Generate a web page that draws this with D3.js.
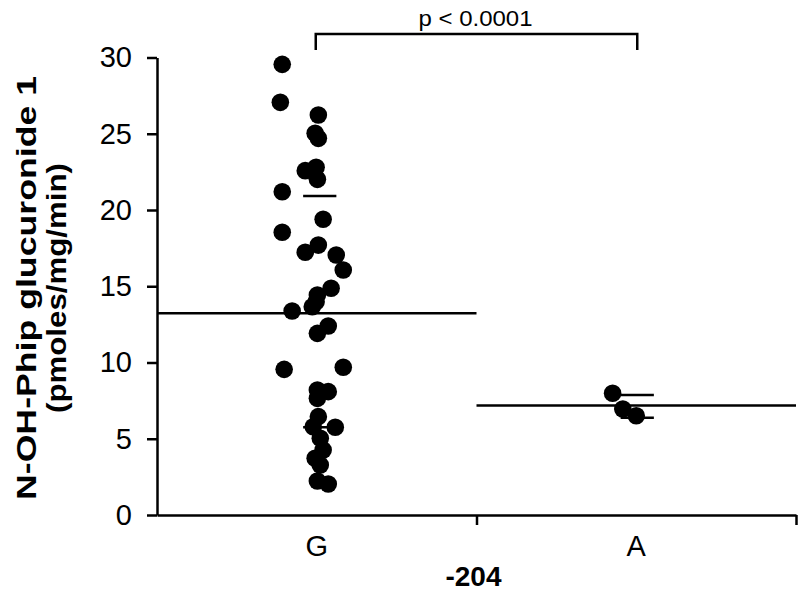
<!DOCTYPE html>
<html>
<head>
<meta charset="utf-8">
<script src="https://cdn.jsdelivr.net/npm/d3@7"></script>
<style>
  html, body { margin: 0; padding: 0; background: #fff; }
  svg { display: block; font-family: "Liberation Sans", Arial, Helvetica, sans-serif; }
</style>
</head>
<body>
<svg id="chart" width="800" height="594"></svg>
<script>
// ---- data ----
const categories = ["G", "A"];
const gValues = [29.55, 27.06, 26.23, 25.03, 24.70, 22.80, 22.58, 22.01, 21.20, 19.39,
                 18.54, 17.70, 17.23, 17.05, 16.07, 14.87, 14.43, 13.99, 13.38, 13.66,
                 12.39, 11.91, 9.55, 9.69, 8.20, 8.09, 7.65, 6.45, 5.79, 5.75,
                 5.03, 4.26, 3.72, 3.28, 2.23, 2.03];
// horizontal scatter of each G point, as fraction of the category width
const gJitter = [-0.108, -0.114, 0.005, -0.005, 0.005, -0.002, -0.036, 0.002, -0.108, 0.020,
                 -0.108, 0.005, -0.036, 0.061, 0.083, 0.045, 0.002, -0.002, -0.077, -0.014,
                 0.036, 0.002, -0.102, 0.083, 0.002, 0.036, 0.002, 0.005, -0.011, 0.058,
                 0.011, 0.020, -0.005, 0.011, 0.002, 0.036];
const aValues = [7.98, 6.95, 6.51];
const aJitter = [-0.074, -0.042, 0.0];
const means = [13.23, 7.18];
const sdUpper = [20.92, 7.87];
const sdLower = [5.75, 6.38];
const yTicks = [0, 5, 10, 15, 20, 25, 30];
const yTitle = ["N-OH-Phip glucuronide 1", "(pmoles/mg/min)"];
const xTitle = "-204";
const pText = "p < 0.0001";

// ---- layout ----
const svg = d3.select("#chart");
const x0 = 157, x1 = 796, yBottom = 515, yTop = 57.5;
const x = d3.scaleBand().domain(categories).range([x0, x1]).padding(0);
const xEdge = d3.scaleLinear().domain([0, categories.length]).range([x0, x1]);
const y = d3.scaleLinear().domain([0, 30]).range([yBottom, yTop]);
const bw = x.bandwidth();
const cx = c => x(c) + bw / 2;
const SW = 2.5;
const FS = 29;

// x axis: ticks at category boundaries
const gx = svg.append("g").attr("transform", `translate(0,${yBottom})`)
  .call(d3.axisBottom(xEdge).tickValues([1, 2]).tickFormat("").tickSize(10).tickSizeOuter(0));
gx.select(".domain").attr("stroke", "#000").attr("stroke-width", SW);
gx.selectAll(".tick line").attr("stroke", "#000").attr("stroke-width", SW);

// category labels
const gxl = svg.append("g").attr("transform", `translate(0,${yBottom})`)
  .call(d3.axisBottom(x).tickSize(0).tickPadding(20));
gxl.select(".domain").remove();
gxl.selectAll("text").attr("font-size", FS).attr("fill", "#000")
  .attr("font-family", "Liberation Sans, Arial, sans-serif");

// y axis
const gy = svg.append("g").attr("transform", `translate(${x0},0)`)
  .call(d3.axisLeft(y).tickValues(yTicks).tickSize(10).tickPadding(15).tickSizeOuter(0));
gy.select(".domain").attr("stroke", "#000").attr("stroke-width", SW);
gy.selectAll(".tick line").attr("stroke", "#000").attr("stroke-width", SW);
gy.selectAll("text").attr("font-size", FS).attr("fill", "#000")
  .attr("font-family", "Liberation Sans, Arial, sans-serif");

// y title
const yt = svg.append("text")
  .attr("transform", "translate(0,288) rotate(-90)")
  .attr("text-anchor", "middle").attr("font-weight", "bold").attr("font-size", 28).attr("fill", "#000");
yt.append("tspan").attr("x", 0).attr("y", 36).attr("textLength", 424).attr("lengthAdjust", "spacingAndGlyphs").text(yTitle[0]);
yt.append("tspan").attr("x", 0).attr("y", 66).attr("textLength", 250).attr("lengthAdjust", "spacingAndGlyphs").text(yTitle[1]);

// x title
svg.append("text").attr("x", xEdge(1) - 3).attr("y", 586)
  .attr("text-anchor", "middle").attr("font-weight", "bold").attr("font-size", 28).attr("fill", "#000")
  .text(xTitle);

// mean lines (full category width) and SD bars
const sdHalf = bw * 0.052;
const sdShift = [3, 1];
categories.forEach((c, i) => {
  svg.append("line").attr("x1", x(c)).attr("x2", x(c) + bw)
    .attr("y1", y(means[i])).attr("y2", y(means[i]))
    .attr("stroke", "#000").attr("stroke-width", SW);
  [sdUpper[i], sdLower[i]].forEach(v => {
    svg.append("line").attr("x1", cx(c) + sdShift[i] - sdHalf).attr("x2", cx(c) + sdShift[i] + sdHalf)
      .attr("y1", y(v)).attr("y2", y(v))
      .attr("stroke", "#000").attr("stroke-width", SW);
  });
});

// points
const R = 8.8;
svg.append("g").selectAll("circle").data(gValues).join("circle")
  .attr("cx", (d, i) => cx("G") + gJitter[i] * bw)
  .attr("cy", d => y(d)).attr("r", R).attr("fill", "#000");
svg.append("g").selectAll("circle").data(aValues).join("circle")
  .attr("cx", (d, i) => cx("A") + aJitter[i] * bw)
  .attr("cy", d => y(d)).attr("r", R).attr("fill", "#000");

// significance bracket
const bTop = 34, bBot = 50;
svg.append("path")
  .attr("d", `M${cx("G") - 1},${bBot}V${bTop}H${cx("A") + 1}V${bBot}`)
  .attr("fill", "none").attr("stroke", "#000").attr("stroke-width", SW);
svg.append("text").attr("x", (cx("G") + cx("A")) / 2 - 1).attr("y", 26)
  .attr("text-anchor", "middle").attr("font-size", 22).attr("fill", "#000")
  .attr("textLength", 114).attr("lengthAdjust", "spacingAndGlyphs")
  .text(pText);
</script>
</body>
</html>
